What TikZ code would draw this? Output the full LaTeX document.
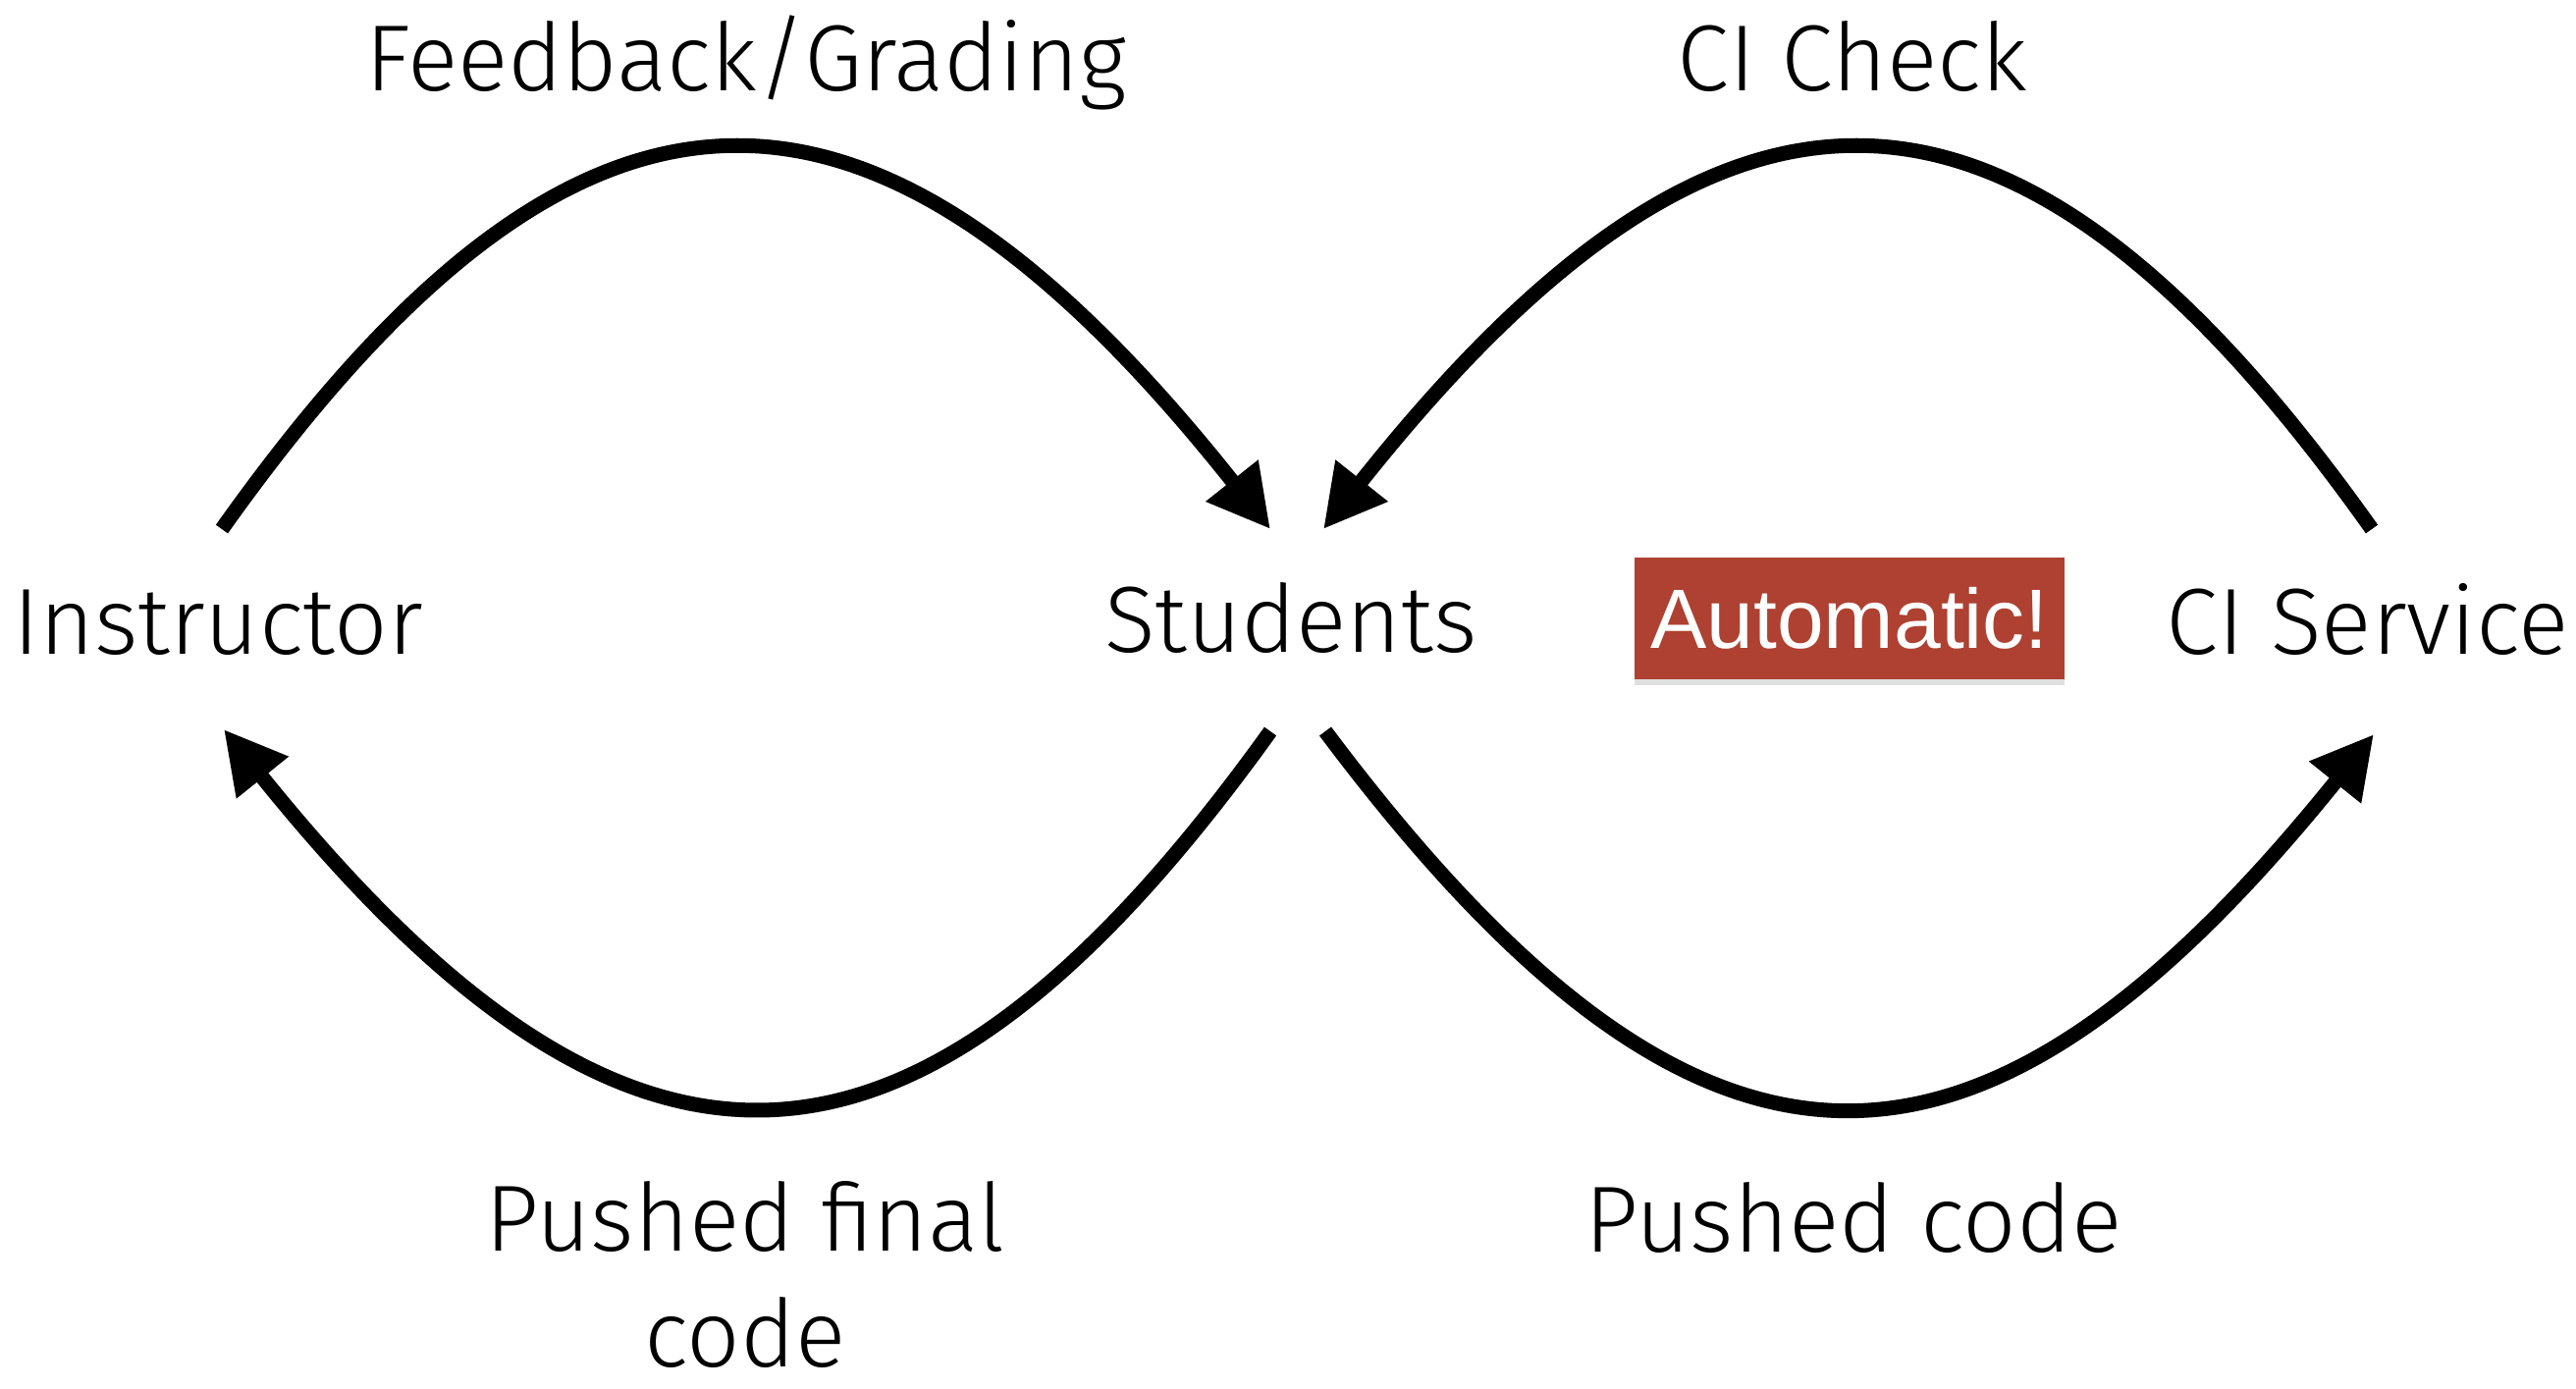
\documentclass[tikz,border=0pt]{standalone}
\usepackage{fontspec}
\setmainfont{Fira Sans Light}
\newfontfamily\autofont{Liberation Sans}
\usetikzlibrary{arrows.meta,shadows}
\definecolor{autored}{HTML}{AE4131}
\begin{document}
\begin{tikzpicture}[x={(0.01cm,0)},y={(0,-0.01cm)},
  lbl/.style={font=\fontsize{27.2}{33.3}\selectfont, inner sep=0pt, text=black, anchor=base},
  flow/.style={line width=0.15cm, -{Triangle[length=0.63cm,width=0.64cm]}},
  autobox/.style={fill=autored, text=white, minimum width=4.37cm, minimum height=1.23cm, inner sep=0pt,
     font=\autofont\fontsize{24.4}{28}\selectfont, drop shadow={shadow xshift=0pt, shadow yshift=-0.06cm, opacity=0.25}}]
\useasboundingbox (0,0) rectangle (2624,1414);
\node[lbl] (instr) at (222,666) {Instructor};
\node[lbl] (stud) at (1315,664) {Students};
\node[lbl] (ci) at (2412,666) {CI Service};
\node[autobox] (auto) at (1884,630) {Automatic!};
\node[lbl] (fb) at (760,92) {Feedback/Grading};
\node[lbl] (cic) at (1887,92) {CI Check};
\node[lbl, align=center] (pf) at (759,1392) {Pushed final\\code};
\node[lbl] (pc) at (1888,1275) {Pushed code};
\coordinate (a1) at (226,539);
\coordinate (a2) at (1294,539);
\coordinate (b1) at (2416,539);
\coordinate (b2) at (1348,539);
\coordinate (c1) at (1294,745);
\coordinate (c2) at (228,743);
\coordinate (d1) at (1350,745);
\coordinate (d2) at (2418,748);
\draw[flow] (a1) .. controls (590,26) and (887,26) .. (a2);
\draw[flow] (b1) .. controls (2052,26) and (1755,26) .. (b2);
\draw[flow] (c1) .. controls (930,1252) and (637,1252) .. (c2);
\draw[flow] (d1) .. controls (1730,1252) and (2012,1252) .. (d2);
\end{tikzpicture}
\end{document}
